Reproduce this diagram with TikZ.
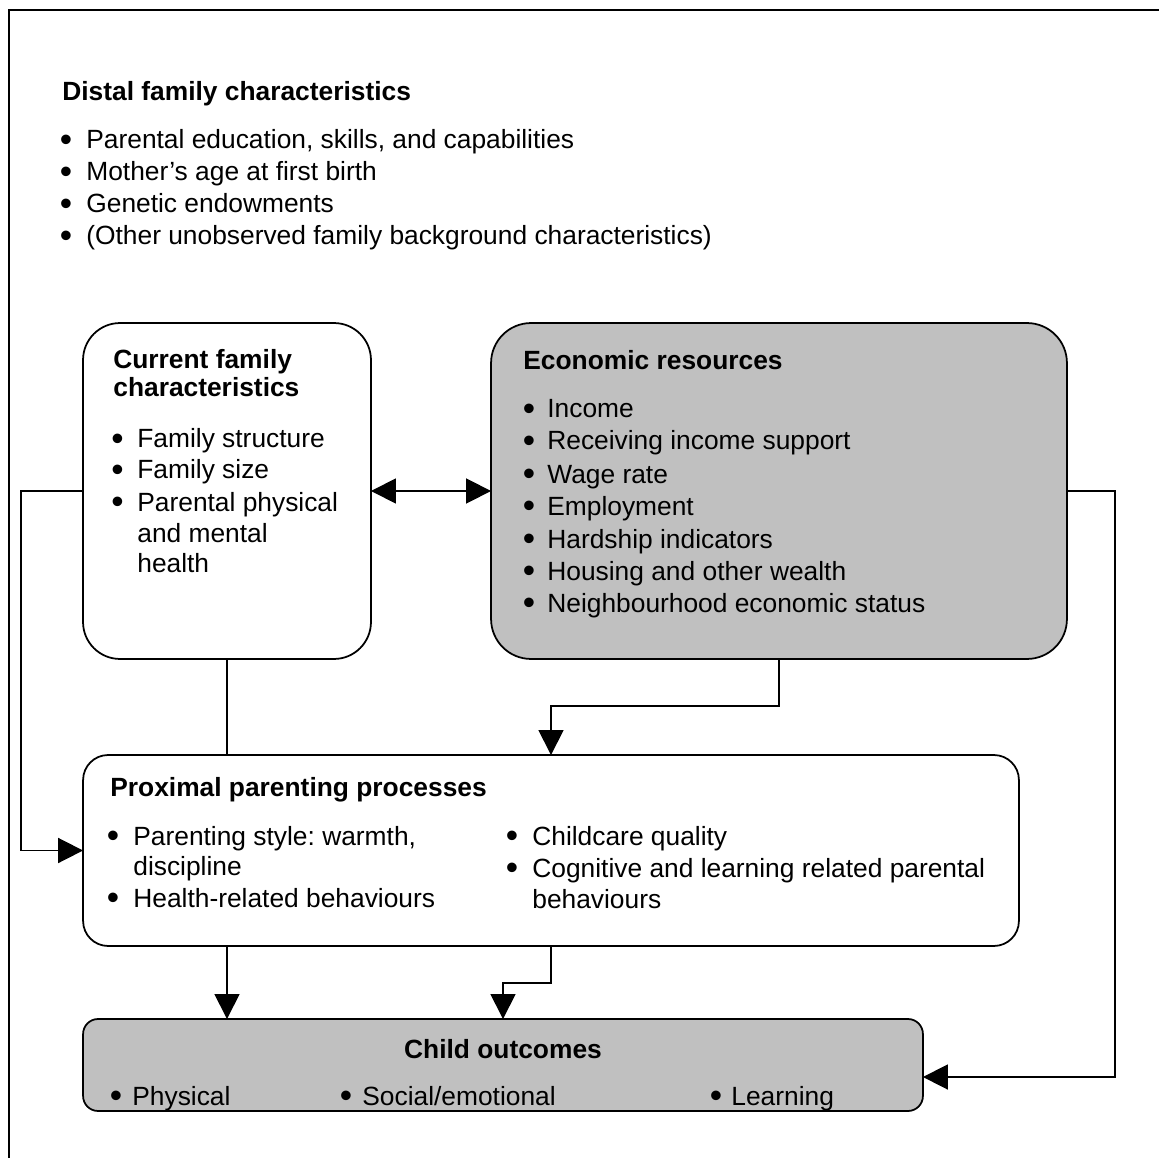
\documentclass[tikz,border=0pt]{standalone}
\usepackage{fontspec}
\setmainfont{Liberation Sans}
\frenchspacing
\usetikzlibrary{arrows.meta, positioning, calc}
\definecolor{outgrey}{RGB}{192, 192, 192}
\tikzset{
  panel/.style={rectangle, draw=black, line width=1pt, inner sep=0pt, outer sep=0pt,
                rounded corners=#1},
  panel/.default=0.7cm,
  head/.style={anchor=base west, inner sep=0pt, font=\fontsize{15}{18}\selectfont\bfseries},
  itm/.style={anchor=base west, inner sep=0pt, font=\fontsize{15}{18}\selectfont},
  bulletmark/.style={anchor=base, inner sep=0pt, yshift=-0.05cm, font=\fontsize{20}{18}\selectfont},
  link/.style={line width=1pt, draw=black},
  arrow/.style={link, -{Triangle[length=0.5cm, width=0.5cm]}},
  darrow/.style={link, {Triangle[length=0.5cm, width=0.5cm]}-{Triangle[length=0.5cm, width=0.5cm]}},
}
\begin{document}
\begin{tikzpicture}[x=0.02cm, y=-0.02cm]
  \useasboundingbox (0,0) rectangle (1159,1158);
  % outer frame
  \draw[line width=1pt] (9,10) rectangle (1175,1175);

  % Distal family characteristics
  \node[head] (distal) at (62,101) {Distal family characteristics};
  \foreach \yy/\t [count=\i] in {149/{Parental education, skills, and capabilities},
      181/Mother’s age at first birth, 213/Genetic endowments,
      245/(Other unobserved family background characteristics)} {
    \node[bulletmark] (db\i) at (66,\yy) {\textbullet};
    \node[itm] (dt\i) at (86,\yy) {\t};
  }

  % Boxes
  \node[panel=0.74cm, fill=white, minimum width=5.76cm, minimum height=6.72cm] (cur) at (227,491) {};
  \node[panel=0.8cm, fill=outgrey, minimum width=11.52cm, minimum height=6.72cm] (eco) at (779,491) {};
  \node[panel=0.5cm, fill=white, minimum width=18.72cm, minimum height=3.82cm] (prox) at (551,850.5) {};
  \node[panel=0.3cm, fill=outgrey, minimum width=16.8cm, minimum height=1.84cm] (child) at (503,1065) {};

  % Current family characteristics
  \node[head] (curhead1) at (113,369) {Current family};
  \node[head] (curhead2) at (113,397) {characteristics};
  \foreach \yy/\t [count=\i] in {448/Family structure, 479/Family size, 511/Parental physical} {
    \node[bulletmark] (cb\i) at (117.5,\yy) {\textbullet};
    \node[itm] (ct\i) at (137,\yy) {\t};
  }
  \node[itm] (ct4) at (137,542) {and mental};
  \node[itm] (ct5) at (137,572) {health};

  % Economic resources
  \node[head] (ecohead) at (523,370) {Economic resources};
  \foreach \yy/\t [count=\i] in {418/Income, 450/Receiving income support, 483/Wage rate,
      515/Employment, 548/Hardship indicators, 580/Housing and other wealth,
      612/Neighbourhood economic status} {
    \node[bulletmark] (eb\i) at (529,\yy) {\textbullet};
    \node[itm] (et\i) at (547,\yy) {\t};
  }

  % Proximal parenting processes
  \node[head] (proxhead) at (110,796) {Proximal parenting processes};
  \foreach \yy/\t [count=\i] in {845/{Parenting style: warmth,}, 907/Health-related behaviours} {
    \node[bulletmark] (plb\i) at (113,\yy) {\textbullet};
    \node[itm] (plt\i) at (133,\yy) {\t};
  }
  \node[itm] (plt3) at (133,875) {discipline};
  \foreach \yy/\t [count=\i] in {845/Childcare quality, 877/Cognitive and learning related parental} {
    \node[bulletmark] (prb\i) at (512,\yy) {\textbullet};
    \node[itm] (prt\i) at (532,\yy) {\t};
  }
  \node[itm] (prt3) at (532,908) {behaviours};

  % Child outcomes
  \node[head, anchor=base] (childhead) at (503,1058) {Child outcomes};
  \foreach \bx/\tx/\t [count=\i] in {116/132/Physical, 346/362/{Social/emotional}, 716/731/Learning} {
    \node[bulletmark] (ob\i) at (\bx,1105) {\textbullet};
    \node[itm] (ot\i) at (\tx,1105) {\t};
  }

  % Connectors
  \draw[darrow] (cur.east) -- (eco.west);
  \draw[arrow] (cur.west) -- ++(-62,0) |- (prox.west);
  \draw[arrow] (eco.east) -- ++(48,0) |- ([yshift=-0.24cm]child.east);
  \draw[link] (cur.south) -- (cur.south |- prox.north);
  \draw[arrow] (eco.south) -- ++(0,47) -| (prox.north);
  \draw[arrow] (cur.south |- prox.south) -- (cur.south |- child.north);
  \draw[arrow] (prox.south) -- ++(0,37) -| (child.north);
\end{tikzpicture}
\end{document}
